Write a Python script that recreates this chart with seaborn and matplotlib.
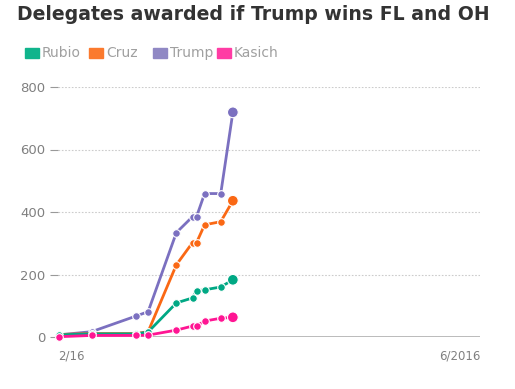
import matplotlib
matplotlib.use("Agg")
import matplotlib.pyplot as plt
import matplotlib.patches as mpatches
import seaborn as sns
import pandas as pd
import numpy as np

dates = ["2016-02-01", "2016-02-09", "2016-02-20", "2016-02-23", "2016-03-01",
         "2016-03-05", "2016-03-06", "2016-03-08", "2016-03-12", "2016-03-15"]
trump = [7, 17, 67, 81, 334, 385, 385, 459, 459, 719]
cruz = [8, 11, 11, 17, 231, 302, 302, 359, 369, 436]
rubio = [7, 10, 10, 16, 109, 125, 148, 151, 160, 183]
kasich = [1, 5, 5, 6, 22, 35, 35, 51, 60, 63]

candidates = ["Rubio", "Cruz", "Trump", "Kasich"]
draw_order = ["Trump", "Cruz", "Rubio", "Kasich"]
colors = {"Rubio": "#00a884", "Cruz": "#fa6814", "Trump": "#7b70c0", "Kasich": "#ff1593"}
legend_colors = {"Rubio": "#10b48c", "Cruz": "#fb7a2e", "Trump": "#9088c4", "Kasich": "#ff3ca4"}
series = {"Trump": trump, "Cruz": cruz, "Rubio": rubio, "Kasich": kasich}

title = "Delegates awarded if Trump wins FL and OH"
yticks = [0, 200, 400, 600, 800]
xlabels = ["2/16", "6/2016"]
x_start = pd.Timestamp("2016-02-01") - pd.Timedelta(hours=8)
x_end = pd.Timestamp("2016-05-15") + pd.Timedelta(hours=6)

rows = []
for c in draw_order:
    for d, v in zip(dates, series[c]):
        rows.append({"date": pd.Timestamp(d), "delegates": v, "candidate": c})
df = pd.DataFrame(rows)

sns.set_theme(style="white")
plt.rcParams['font.family'] = ['DejaVu Sans']

fig = plt.figure(figsize=(5.15, 3.89), dpi=100)
ax = fig.add_axes([58/515, 1-337/389, (480-58)/515, (337-87)/389])

sns.lineplot(data=df, x="date", y="delegates", hue="candidate", hue_order=draw_order,
             palette=colors, marker="o", markersize=5.5, markeredgecolor="white",
             markeredgewidth=0.8, linewidth=2, legend=False, ax=ax, clip_on=False)
last = df[df["date"] == df["date"].max()]
sns.scatterplot(data=last, x="date", y="delegates", hue="candidate", hue_order=draw_order,
                palette=colors, s=60, edgecolor="white", linewidth=0.8, legend=False,
                ax=ax, zorder=5, clip_on=False)

ax.set_xlim(x_start, x_end)
ax.set_ylim(0, 800)
ax.set_yticks(yticks)
ax.set_yticklabels([str(t) for t in yticks])
ax.yaxis.grid(True, color="#cccccc", linestyle=(0, (1.5, 1.5)), linewidth=0.8)
ax.xaxis.grid(False)
for s in ax.spines.values():
    s.set_visible(False)
ax.axhline(0, color="#b5b5b5", linewidth=2, zorder=1)
ax.tick_params(axis="y", left=True, length=6, width=0.8, color="#999999",
               labelcolor="#808080", labelsize=9.5, pad=3)
ax.set_xticks([x_start, x_end])
ax.set_xticklabels(xlabels)
ax.tick_params(axis="x", bottom=False, labelcolor="#808080", labelsize=8.5, pad=3)
xt = ax.get_xticklabels()
xt[0].set_ha("left")
xt[1].set_ha("right")
ax.set_xlabel("")
ax.set_ylabel("")

fig.text(17/515, 1-14/389, title, fontsize=13.6, fontweight="bold", color="#333333",
         va="center", ha="left")

# legend
leg_x = [25, 89, 153, 217]
for c, lx in zip(candidates, leg_x):
    fig.patches.append(mpatches.Rectangle((lx/515, 1-58/389), 14/515, 10/389,
                                          transform=fig.transFigure, color=legend_colors[c]))
    fig.text((lx+17)/515, 1-53/389, c, fontsize=10, color="#a0a0a0", va="center", ha="left")

fig.savefig("out.png", dpi=100)
